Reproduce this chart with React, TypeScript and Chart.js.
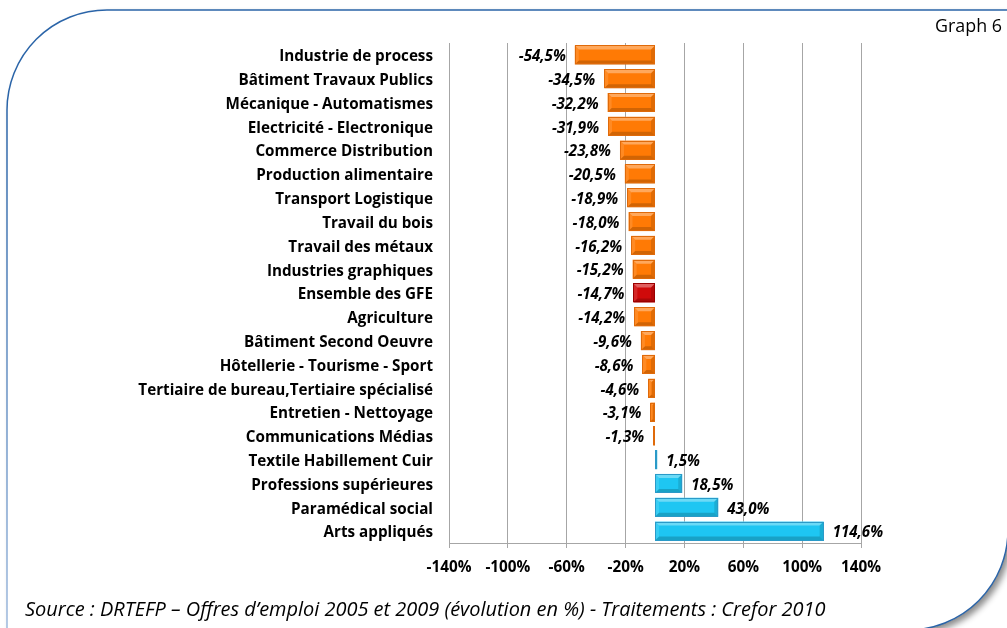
import React, { useEffect, useRef } from "react";
import { Chart, registerables } from "chart.js";

Chart.register(...registerables);

const categories = [
  "Industrie de process",
  "Bâtiment Travaux Publics",
  "Mécanique - Automatismes",
  "Electricité - Electronique",
  "Commerce Distribution",
  "Production alimentaire",
  "Transport Logistique",
  "Travail du bois",
  "Travail des métaux",
  "Industries graphiques",
  "Ensemble des GFE",
  "Agriculture",
  "Bâtiment Second Oeuvre",
  "Hôtellerie - Tourisme - Sport",
  "Tertiaire de bureau,Tertiaire spécialisé",
  "Entretien - Nettoyage",
  "Communications Médias",
  "Textile Habillement Cuir",
  "Professions supérieures",
  "Paramédical social",
  "Arts appliqués",
];

const evolution = [
  -54.5, -34.5, -32.2, -31.9, -23.8, -20.5, -18.9, -18.0, -16.2, -15.2, -14.7,
  -14.2, -9.6, -8.6, -4.6, -3.1, -1.3, 1.5, 18.5, 43.0, 114.6,
];

const highlightCategory = "Ensemble des GFE";

const xMin = -140;
const xMax = 140;
const xStep = 40;

const title = "Graph 6";
const sourceText =
  "Source : DRTEFP – Offres d’emploi 2005 et 2009 (évolution en %) - Traitements : Crefor 2010";

const FONT = "'Open Sans', 'Noto Sans', sans-serif";

function fitSize(text: string, style: string, weight: string, target: number) {
  const c = document.createElement("canvas").getContext("2d");
  if (!c) return 14;
  c.font = `${style} ${weight} 100px ${FONT}`;
  const w = c.measureText(text).width;
  return w > 0 ? (100 * target) / w : 14;
}

function fmt(v: number) {
  return v.toFixed(1).replace(".", ",") + "%";
}

function barColor(i: number) {
  if (categories[i] === highlightCategory) return "#D00A0A";
  return evolution[i] < 0 ? "#FF7A05" : "#1EC6F2";
}
function barBorder(i: number) {
  if (categories[i] === highlightCategory) return "#9A0000";
  return evolution[i] < 0 ? "#DF6A0A" : "#2A9AC8";
}

function makeBevelPlugin(labelSize: number) {
  return {
    id: "bevel",
    afterDatasetsDraw(chart: any) {
      const ctx = chart.ctx;
      const meta = chart.getDatasetMeta(0);
      ctx.save();
      meta.data.forEach((el: any, i: number) => {
        const p = el.getProps(["x", "y", "base", "height"], true);
        const l = Math.min(p.x, p.base);
        const r = Math.max(p.x, p.base);
        const t = p.y - p.height / 2;
        const b = p.y + p.height / 2;
        const w = r - l;
        const bv = Math.min(4, w / 2);
        const poly = (pts: number[][], fill: string) => {
          ctx.beginPath();
          ctx.moveTo(pts[0][0], pts[0][1]);
          for (let k = 1; k < pts.length; k++) ctx.lineTo(pts[k][0], pts[k][1]);
          ctx.closePath();
          ctx.fillStyle = fill;
          ctx.fill();
        };
        poly([[l, t], [r, t], [r - bv, t + bv], [l + bv, t + bv]], "rgba(255,255,255,0.35)");
        poly([[l, b], [r, b], [r - bv, b - bv], [l + bv, b - bv]], "rgba(0,0,0,0.18)");
        poly([[l, t], [l + bv, t + bv], [l + bv, b - bv], [l, b]], "rgba(255,255,255,0.12)");
        poly([[r, t], [r - bv, t + bv], [r - bv, b - bv], [r, b]], "rgba(0,0,0,0.12)");
        ctx.strokeStyle = barBorder(i);
        ctx.lineWidth = 1;
        ctx.strokeRect(Math.round(l) + 0.5, Math.round(t) + 0.5, Math.max(0, Math.round(w) - 1), Math.round(b - t) - 1);
      });
      ctx.font = `italic bold ${labelSize}px ${FONT}`;
      ctx.fillStyle = "#000";
      ctx.textBaseline = "middle";
      meta.data.forEach((el: any, i: number) => {
        const p = el.getProps(["x", "y", "base"], true);
        const v = evolution[i];
        if (v < 0) {
          ctx.textAlign = "right";
          ctx.fillText(fmt(v), Math.min(p.x, p.base) - 9, p.y + 2);
        } else {
          ctx.textAlign = "left";
          ctx.fillText(fmt(v), Math.max(p.x, p.base) + 9, p.y + 2);
        }
      });
      ctx.restore();
    },
  };
}

export default function App() {
  const canvasRef = useRef<HTMLCanvasElement | null>(null);
  const sourceSize = fitSize(sourceText, "italic", "normal", 801);
  const titleSize = fitSize(title, "normal", "normal", 67);

  useEffect(() => {
    if (!canvasRef.current) return;
    const catSize = fitSize("Industrie de process", "normal", "bold", 154);
    const tickSize = fitSize("-140%", "normal", "bold", 45);
    const valSize = fitSize("-54,5%", "italic", "bold", 47);
    const chart = new Chart(canvasRef.current, {
      type: "bar",
      data: {
        labels: categories,
        datasets: [
          {
            data: evolution,
            backgroundColor: categories.map((_, i) => barColor(i)),
            borderWidth: 0,
            barPercentage: 0.8,
            categoryPercentage: 1,
          },
        ],
      },
      options: {
        indexAxis: "y",
        animation: false,
        responsive: false,
        maintainAspectRatio: false,
        layout: { padding: { top: 43, right: 146, bottom: 0, left: 0 } },
        plugins: {
          legend: { display: false },
          tooltip: { enabled: false },
          title: { display: false },
        },
        scales: {
          x: {
            type: "linear",
            min: xMin,
            max: xMax,
            ticks: {
              stepSize: xStep,
              callback: (v: any) => v + "%",
              color: "#000",
              font: { family: FONT, size: tickSize, weight: "bold" },
              padding: 10,
              maxRotation: 0,
            },
            grid: { color: "#A6A6A6", tickLength: 5, lineWidth: 1 },
            border: { color: "#A6A6A6" },
            afterFit: (s: any) => {
              s.height = 85;
            },
          },
          y: {
            type: "category",
            ticks: {
              color: "#000",
              font: { family: FONT, size: catSize, weight: "bold" },
              padding: 8,
              labelOffset: 2,
              autoSkip: false,
            },
            grid: { display: false },
            border: { display: false },
            afterFit: (s: any) => {
              s.width = 449;
            },
          },
        },
      },
      plugins: [makeBevelPlugin(valSize)],
    } as any);
    return () => chart.destroy();
  }, []);

  return (
    <div style={{ position: "fixed", left: 0, top: 0, width: 1007, height: 628, overflow: "hidden", background: "#fff" }}>
      <svg width={1007} height={628} style={{ position: "absolute", left: 0, top: 0 }}>
        <defs>
          <filter id="sh" x="-10%" y="-10%" width="130%" height="130%">
            <feDropShadow dx="4" dy="4" stdDeviation="3" floodColor="#000" floodOpacity="0.45" />
          </filter>
          <linearGradient id="lg" gradientUnits="userSpaceOnUse" x1="0" y1="110" x2="0" y2="628">
            <stop offset="0" stopColor="#2A64A8" />
            <stop offset="1" stopColor="#9DB9DD" />
          </linearGradient>
        </defs>
        <path d="M107 10 L1008 10 L1008 530 A100 100 0 0 1 908 630 L7 630 L7 110 A100 100 0 0 1 107 10 Z" fill="#fff" filter="url(#sh)" />
        <path d="M1010 10 L107 10 A100 100 0 0 0 7 110" stroke="#2A64A8" strokeWidth={1.5} fill="none" />
        <path d="M7 110 L7 630" stroke="url(#lg)" strokeWidth={1.5} fill="none" />
        <path d="M1008 530 A100 100 0 0 1 908 630" stroke="#2A64A8" strokeWidth={1.5} fill="none" />
      </svg>
      <canvas ref={canvasRef} width={1007} height={628} style={{ position: "absolute", left: 0, top: 0 }} />
      <div style={{ position: "absolute", left: 935, top: 14, fontFamily: FONT, fontSize: titleSize, color: "#000", lineHeight: "22px", whiteSpace: "nowrap" }}>{title}</div>
      <div style={{ position: "absolute", left: 25, top: 598, fontFamily: FONT, fontSize: sourceSize, fontStyle: "italic", color: "#000", lineHeight: "22px", whiteSpace: "nowrap" }}>{sourceText}</div>
    </div>
  );
}
